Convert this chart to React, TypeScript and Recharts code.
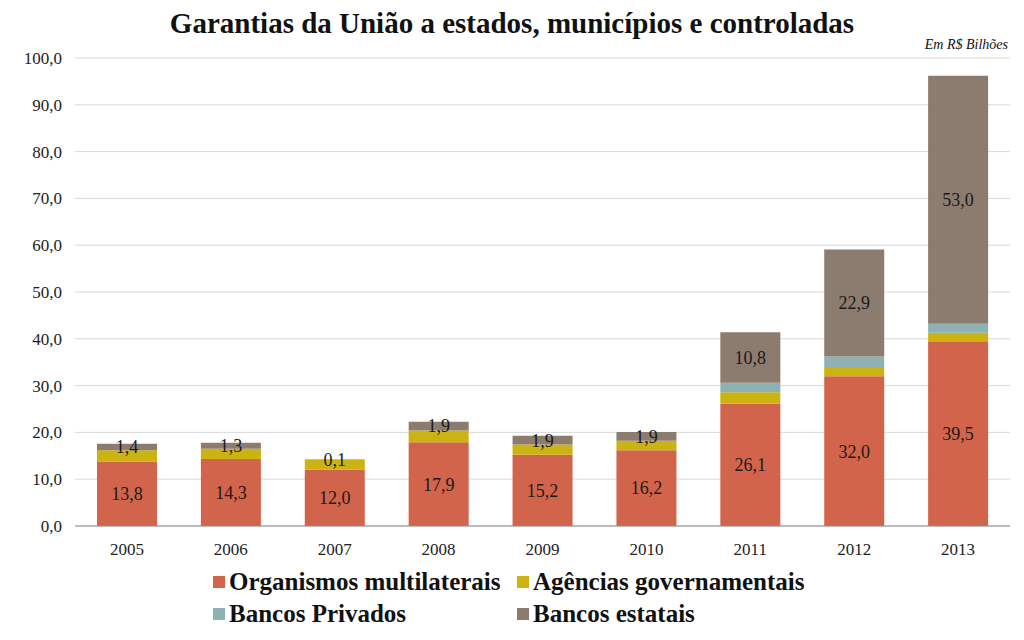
import { BarChart, Bar, XAxis, YAxis, CartesianGrid, LabelList } from "recharts";

const years = ["2005", "2006", "2007", "2008", "2009", "2010", "2011", "2012", "2013"];
const organismos = [13.8, 14.3, 12.0, 17.9, 15.2, 16.2, 26.1, 32.0, 39.5];
const agencias = [2.4, 2.2, 2.1, 2.5, 2.2, 2.0, 2.5, 2.0, 1.8];
const privados = [0, 0, 0, 0, 0, 0, 2.0, 2.2, 1.9];
const estatais = [1.4, 1.3, 0.1, 1.9, 1.9, 1.9, 10.8, 22.9, 53.0];
const yTicks = [0, 10, 20, 30, 40, 50, 60, 70, 80, 90, 100];

const SERIES = [
  { key: "organismos", name: "Organismos multilaterais", color: "#D2644B" },
  { key: "agencias", name: "Agências governamentais", color: "#CBB312" },
  { key: "privados", name: "Bancos Privados", color: "#8EB2B4" },
  { key: "estatais", name: "Bancos estatais", color: "#8C7C70" },
];

const data = years.map((year, i) => ({
  year,
  organismos: organismos[i],
  agencias: agencias[i],
  privados: privados[i],
  estatais: estatais[i],
}));

const FONT = "'Liberation Serif', 'DejaVu Serif', serif";
const fmt = (v: any) => Number(v).toFixed(1).replace(".", ",");

export default function App() {
  return (
    <div
      style={{
        position: "absolute",
        left: 0,
        top: 0,
        width: 1024,
        height: 640,
        background: "#fff",
        fontFamily: FONT,
      }}
    >
      <style>{`.recharts-wrapper text, .recharts-text { font-family: ${FONT} !important; }`}</style>
      <div
        style={{
          position: "absolute",
          top: 7,
          left: 0,
          width: 1024,
          textAlign: "center",
          fontSize: 29,
          fontWeight: "bold",
          color: "#111",
        }}
      >
        Garantias da União a estados, municípios e controladas
      </div>
      <div
        style={{
          position: "absolute",
          top: 37,
          right: 16,
          fontSize: 14,
          fontStyle: "italic",
          color: "#111",
        }}
      >
        Em R$ Bilhões
      </div>

      <BarChart
        width={1024}
        height={640}
        data={data}
        margin={{ top: 58, right: 14, bottom: 84, left: 0 }}
        barSize={60}
        style={{ fontFamily: FONT }}
      >
        <CartesianGrid vertical={false} stroke="#d9d9d9" />
        <XAxis
          dataKey="year"
          height={30}
          tickLine={false}
          axisLine={{ stroke: "#8c8c8c" }}
          tick={{ fontSize: 17, fill: "#222" }}
          tickMargin={11}
        />
        <YAxis
          width={75}
          domain={[0, 100]}
          ticks={yTicks}
          tickFormatter={fmt}
          tickLine={false}
          axisLine={false}
          tickMargin={7}
          tick={{ fontSize: 17, fill: "#222" }}
        />
        {SERIES.map((s) => (
          <Bar
            key={s.key}
            dataKey={s.key}
            name={s.name}
            stackId="a"
            fill={s.color}
            isAnimationActive={false}
          >
            {(s.key === "organismos" || s.key === "estatais") && (
              <LabelList
                dataKey={s.key}
                position="center"
                formatter={fmt}
                style={{ fontSize: 18, fill: "#1a1a1a" }}
              />
            )}
          </Bar>
        ))}
      </BarChart>

      <div
        style={{
          position: "absolute",
          left: 213,
          top: 568,
          display: "grid",
          gridTemplateColumns: "304px 320px",
          rowGap: 4,
          fontSize: 25,
          fontWeight: "bold",
          color: "#111",
        }}
      >
        {SERIES.map((s) => (
          <div
            key={s.key}
            style={{ display: "flex", alignItems: "center", height: 28, whiteSpace: "nowrap" }}
          >
            <span
              style={{
                display: "inline-block",
                width: 12,
                height: 12,
                background: s.color,
                marginRight: 4,
                flexShrink: 0,
              }}
            />
            {s.name}
          </div>
        ))}
      </div>
    </div>
  );
}
